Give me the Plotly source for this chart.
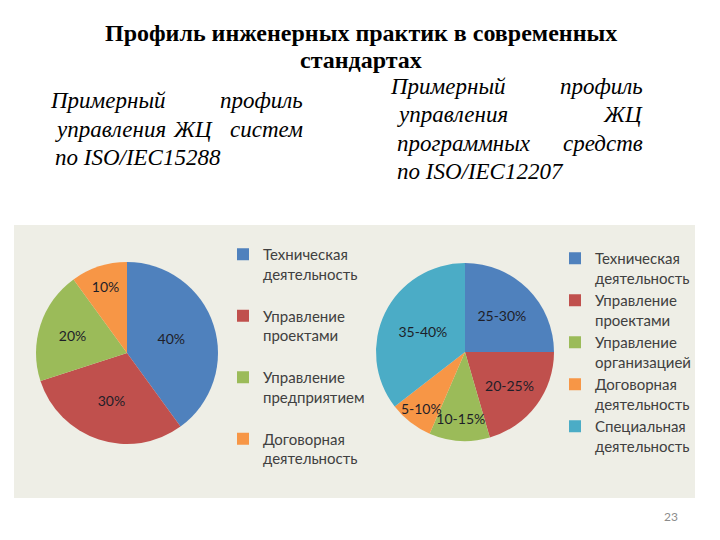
import plotly.graph_objects as go

# ---- data ----
categories1 = ["Техническая<br>деятельность<br> ", "Управление<br>проектами<br> ",
               "Управление<br>предприятием<br> ", "Договорная<br>деятельность<br> "]
values1 = [40, 30, 20, 10]
text1 = ["40%", "30%", "20%", "10%"]

categories2 = ["Техническая<br>деятельность", "Управление<br>проектами",
               "Управление<br>организацией", "Договорная<br>деятельность",
               "Специальная<br>деятельность"]
values2 = [25, 20.5, 11, 8, 35.5]
text2 = ["25-30%", "20-25%", "10-15%", "5-10%", "35-40%"]

colors1 = ["#4F81BD", "#C0504D", "#9BBB59", "#F79646"]
colors2 = ["#4F81BD", "#C0504D", "#9BBB59", "#F79646", "#4BACC6"]

title_lines = ["Профиль инженерных практик в современных", "стандартах"]
page_number = "23"

W, H = 720, 540
def px(x):
    return x / W
def py(y):
    return 1 - y / H

fig = go.Figure()

fig.add_trace(go.Pie(
    labels=categories1, values=values1, text=text1, textinfo="text",
    textposition="inside", insidetextorientation="horizontal",
    sort=False, direction="clockwise", rotation=0,
    marker=dict(colors=colors1, line=dict(width=0)),
    textfont=dict(family="Lato", size=14, color="#1E1E28"),
    domain=dict(x=[px(36), px(218)], y=[py(444), py(262)]),
    legend="legend", hoverinfo="label+text",
))

fig.add_trace(go.Pie(
    labels=categories2, values=values2, text=text2, textinfo="text",
    textposition="inside", insidetextorientation="horizontal",
    sort=False, direction="clockwise", rotation=0,
    marker=dict(colors=colors2, line=dict(width=0)),
    textfont=dict(family="Lato", size=14, color="#1E1E28"),
    domain=dict(x=[px(376), px(554)], y=[py(441), py(263)]),
    legend="legend2", hoverinfo="label+text",
))

# background panel
fig.add_shape(type="rect", xref="paper", yref="paper",
              x0=px(14), x1=px(695), y0=py(498), y1=py(225),
              fillcolor="#EEEEE6", line=dict(width=0), layer="below")

ann = []
ann.append(dict(text="<b>" + title_lines[0] + "</b>", x=px(361), y=py(33)))
ann.append(dict(text="<b>" + title_lines[1] + "</b>", x=px(361), y=py(60)))
for a in ann:
    a.update(xref="paper", yref="paper", showarrow=False, xanchor="center", yanchor="middle",
             font=dict(family="Liberation Serif", size=24, color="#000000"))

para = [
    # text, x, y, anchor
    ("Примерный", 48, 101, "left"), ("профиль", 305, 101, "right"),
    ("управления", 53, 130, "left"), ("ЖЦ", 193, 130, "center"), ("систем", 305, 130, "right"),
    ("по ISO/IEC15288", 53, 158, "left"),
    ("Примерный", 388, 87, "left"), ("профиль", 645, 87, "right"),
    ("управления", 395, 114, "left"), ("ЖЦ", 645, 114, "right"),
    ("программных", 395, 143, "left"), ("средств", 645, 143, "right"),
    ("по ISO/IEC12207", 395, 171, "left"),
]
for t, x, y, anc in para:
    ann.append(dict(text="<i>" + t + "</i>", x=px(x), y=py(y), xref="paper", yref="paper",
                    showarrow=False, xanchor=anc, yanchor="middle",
                    font=dict(family="Liberation Serif", size=23, color="#000000")))

ann.append(dict(text=page_number, x=px(671), y=py(516), xref="paper", yref="paper",
                showarrow=False, xanchor="center", yanchor="middle",
                font=dict(family="Lato", size=12, color="#8C8C8C")))

fig.update_layout(
    width=W, height=H, margin=dict(l=0, r=0, t=0, b=0),
    paper_bgcolor="#FFFFFF", plot_bgcolor="#FFFFFF",
    annotations=ann, showlegend=True,
    uniformtext=dict(minsize=14, mode="show"),
    legend=dict(x=px(223), y=py(238), xanchor="left", yanchor="top", valign="top",
                bgcolor="rgba(0,0,0,0)", font=dict(family="Lato", size=15, color="#404040")),
    legend2=dict(x=px(555), y=py(242), xanchor="left", yanchor="top", valign="top",
                 bgcolor="rgba(0,0,0,0)", font=dict(family="Lato", size=15, color="#404040")),
)

fig.write_html("out.html")
